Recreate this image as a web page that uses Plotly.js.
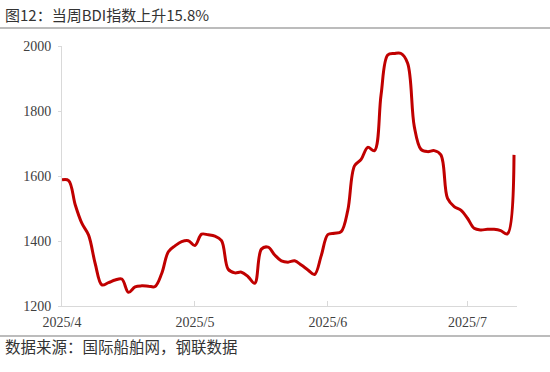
<!DOCTYPE html>
<html>
<head>
<meta charset="utf-8">
<script src="https://cdn.plot.ly/plotly-3.0.1.min.js"></script>
<style>html,body{margin:0;padding:0;background:#fff;}#chart{width:550px;height:372px;}</style>
</head>
<body>
<div id="chart"></div>
<script>
const dates = [
 '2025-04-01','2025-04-02','2025-04-03','2025-04-04','2025-04-07','2025-04-08','2025-04-09','2025-04-10','2025-04-11','2025-04-14',
 '2025-04-15','2025-04-16','2025-04-17','2025-04-22','2025-04-23','2025-04-24','2025-04-25','2025-04-28','2025-04-29','2025-04-30',
 '2025-05-01','2025-05-02','2025-05-06','2025-05-07','2025-05-08','2025-05-09','2025-05-12','2025-05-13','2025-05-14','2025-05-15',
 '2025-05-16','2025-05-19','2025-05-20','2025-05-21','2025-05-22','2025-05-23','2025-05-27','2025-05-28','2025-05-29','2025-05-30',
 '2025-06-02','2025-06-03','2025-06-04','2025-06-05','2025-06-06','2025-06-09','2025-06-10','2025-06-11','2025-06-12','2025-06-13',
 '2025-06-16','2025-06-17','2025-06-18','2025-06-19','2025-06-20','2025-06-23','2025-06-24','2025-06-25','2025-06-26','2025-06-27',
 '2025-06-30','2025-07-01','2025-07-02','2025-07-03','2025-07-04','2025-07-07','2025-07-08','2025-07-09','2025-07-10'
];
const bdi = [
 1588,1586,1511,1454,1418,1330,1265,1272,1280,1283,
 1242,1259,1262,1261,1260,1300,1367,1385,1398,1401,
 1386,1421,1419,1415,1401,1313,1302,1304,1290,1270,
 1375,1381,1357,1339,1335,1339,1326,1311,1297,1355,
 1420,1424,1429,1495,1631,1651,1688,1678,1850,1972,
 1977,1977,1947,1752,1682,1675,1678,1665,1531,1506,
 1495,1470,1439,1434,1436,1436,1432,1422,1665
];
const tickDates = ['2025-04-01','2025-05-01','2025-06-02','2025-07-01'];
const tickLabels = ['2025/4','2025/5','2025/6','2025/7'];
const titleText = '图12：当周BDI指数上升15.8%';
const sourceText = '数据来源：国际船舶网，钢联数据';

const W = 550, H = 372;
const L = 62, R = 517, T = 46, B = 306;
const pw = R - L, ph = B - T;
const px = x => (x - L) / pw;
const py = y => (B - y) / ph;

const trace = {
  x: dates, y: bdi, type: 'scatter', mode: 'lines',
  line: {color: '#C00000', width: 3, shape: 'spline', smoothing: 1},
  hoverinfo: 'skip'
};

const layout = {
  width: W, height: H,
  margin: {l: L, r: W - R, t: T, b: H - B, pad: 0},
  paper_bgcolor: '#ffffff', plot_bgcolor: '#ffffff',
  showlegend: false,
  font: {family: '"Liberation Serif", "Times New Roman", serif', color: '#404040', size: 14},
  title: {
    text: titleText, xref: 'container', yref: 'container',
    x: 5 / W, xanchor: 'left', y: 1 - 16 / H, yanchor: 'middle',
    font: {family: '"Noto Sans CJK SC", sans-serif', size: 15, color: '#333333'}
  },
  xaxis: {
    type: 'category', range: [0, 68.45],
    tickvals: tickDates, ticktext: tickLabels,
    showline: true, linecolor: '#d9d9d9', linewidth: 1,
    ticks: 'inside', ticklen: 5, tickcolor: '#d9d9d9',
    showgrid: false, zeroline: false,
    tickfont: {family: '"Liberation Serif", serif', size: 14, color: '#404040'},
    ticklabelstandoff: 3
  },
  yaxis: {
    range: [1200, 2000], dtick: 200, tick0: 1200,
    showline: true, linecolor: '#d9d9d9', linewidth: 1,
    ticks: 'outside', ticklen: 3, tickcolor: '#d9d9d9',
    showgrid: false, zeroline: false,
    tickfont: {family: '"Liberation Serif", serif', size: 14, color: '#404040'},
    ticklabelstandoff: 4
  },
  shapes: [
    {type: 'line', xref: 'paper', yref: 'paper', x0: px(0), x1: px(W), y0: py(28), y1: py(28),
     line: {color: '#a6a6a6', width: 1.5}},
    {type: 'line', xref: 'paper', yref: 'paper', x0: px(0), x1: px(W), y0: py(336), y1: py(336),
     line: {color: '#a6a6a6', width: 1.5}}
  ],
  annotations: [
    {text: sourceText, xref: 'paper', yref: 'paper', x: px(3), y: py(346),
     xanchor: 'left', yanchor: 'middle', showarrow: false,
     font: {family: '"Noto Sans CJK SC", sans-serif', size: 15.5, color: '#333333'}}
  ]
};

Plotly.newPlot('chart', [trace], layout, {displayModeBar: false, staticPlot: true});
</script>
</body>
</html>
